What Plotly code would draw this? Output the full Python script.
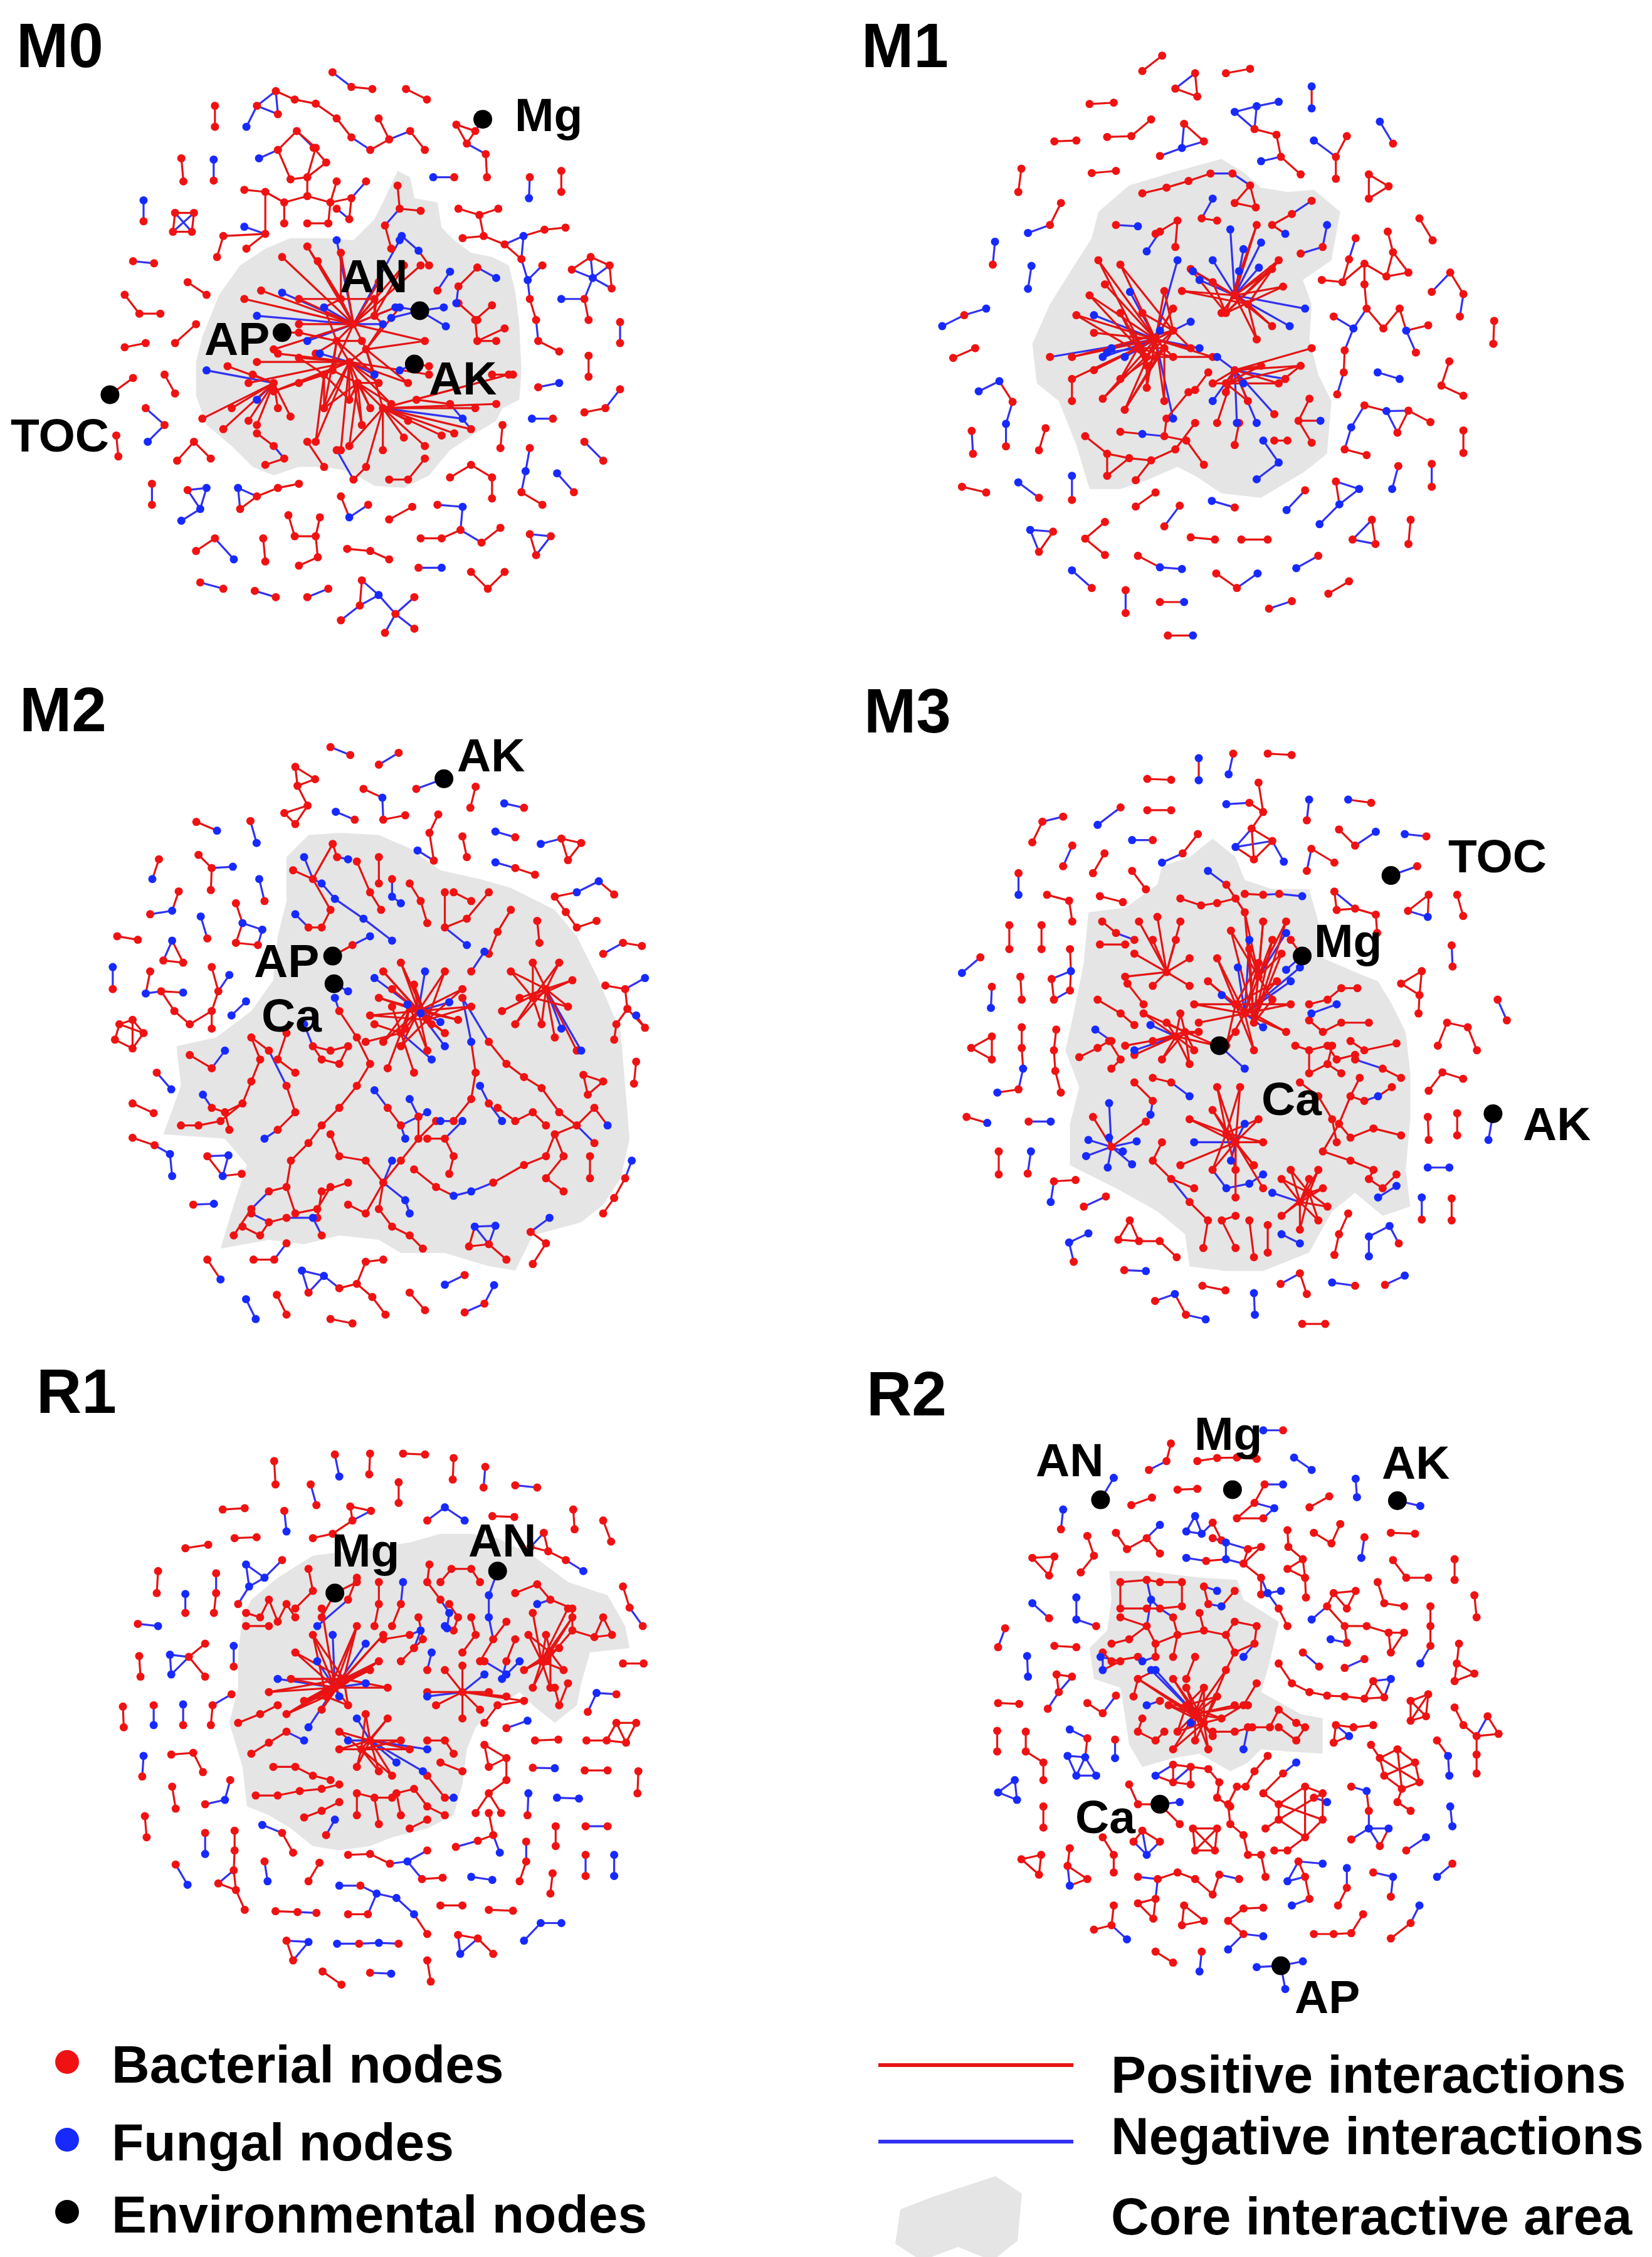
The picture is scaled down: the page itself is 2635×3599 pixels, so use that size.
import re
import plotly.graph_objects as go

W, H = 2635, 3599
ZOOM = 1568  # local units spanned by each panel square

PANEL_NAMES = ["M0", "M1", "M2", "M3", "R1", "R2"]
# crop of each panel in figure pixels: (left, top, size)
PANEL_CROPS = {"M0": (0, 0, 1050), "M1": (1330, 0, 1100), "M2": (0, 1050, 1100),
               "M3": (1420, 1080, 1150), "R1": (0, 2150, 1100), "R2": (1330, 2150, 1100)}
TITLE_POS = {"M0": (16, 64), "M1": (1364, 64), "M2": (21, 1123),
             "M3": (1368, 1125), "R1": (48, 2210), "R2": (1372, 2214)}

# ---------------- network data (node coords in panel units; b = fungal node; '-' positive, '~' negative) --------
M0_PATHS = """
780,160~825,195-875,200
955,200-1005,225
1075,285-1100,330-1120,300-1075,285
1120,300~1138,272
1100,330~1145,355-1148,410
500,240-500,290
575,290b~600,240~645,205~650,260~600,240
645,205-690,225-740,235-790,270-825,315~870,345-915,320~965,300-1000,345
890,270-915,320
420,365-425,420
497,368b~497,418
605,365b~650,345-695,300~735,340-765,375-720,410-680,415-650,345
695,300-740,340-720,410
720,410-720,455-665,470-620,445-570,440
720,455-775,470-825,460~860,420
775,470-790,420
775,470-770,520-720,520
825,460-820,510~790,485
665,470-665,520
620,445-620,545-575,580
570,528b~620,545
620,545-520,550-505,600
330,465b~330,515
405,495~445,540-400,540-405,495-450,495~400,540
450,495-445,540
305,610~355,615
435,660-480,690
285,690-320,735-370,735
455,760-405,805
285,815-335,805
250,928-305,888
380,880-405,925
335,960~380,1000~340,1040b
265,1025-270,1075
410,1085-450,1040-490,1080
350,1140~350,1190
435,1155~480,1150b~465,1200b~435,1155
465,1200b~420,1228b
555,1150b~600,1170-560,1200~555,1150b
600,1170-650,1150-700,1140
455,1300-500,1270~545,1320b
615,1270-620,1325
675,1215-690,1265-740,1265-750,1220
740,1265-745,1315-700,1335
800,1170-820,1220b~865,1190
915,1225-970,1195
815,1295-870,1300-915,1320
1030,1190~1090,1195b~1085,1250-1040,1270-990,1270
1085,1250~1135,1280-1180,1245
985,1340~1040,1340b
1110,1350-1150,1390-1190,1350
1250,1260~1300,1265~1265,1310-1250,1260
465,1375~520,1390
595,1395~645,1410
720,1410~770,1390
850,1370~890,1405b~930,1450~975,1410
850,1370-845,1430~800,1465
930,1450~975,1485
930,1450~905,1495
845,1430~890,1405b
1020,410b~1070,410
1250,410~1248,460b
1325,395-1325,445
1080,485-1130,500-1175,485
1130,500-1140,550-1090,555
1140,550-1190,570~1235,550b-1285,535-1335,530
1190,570-1230,605~1245,655b~1280,620
1235,550b~1230,605
1245,655b~1250,700-1265,750~1270,800-1320,825
1350,630-1395,600-1440,620-1445,675
1350,630~1400,650b~1395,600
1400,650b~1440,620
1400,650b~1445,675
1400,650b~1380,700
1325,700b~1380,700-1390,750
1465,755~1465,805
1390,835-1390,885
1270,910~1320,900b
1465,915~1430,960-1380,970
1255,985b~1305,985
1185,1000-1180,1055
1380,1040~1425,1085
1250,1055~1240,1110b~1230,1160-1280,1190
1315,1115b~1355,1160
1060,1125-1110,1095-1160,1125-1160,1175
935,430-940,485-990,490
940,485~905,525-920,580
945,550b~985,585b-1010,620
1060,635b~1030,680
1125,625-1080,670~1075,710b
1125,625~1170,650b
1160,715-1120,750-1125,800-1170,800
1125,800-1190,770
1125,750-1080,710
1160,880-1210,880
980,940-1060,950~1110,1010
1000,1080-960,1130-915,1130
860,1100-830,1130~790,1060
600,1020-640,1050~665,1080-620,1095
720,1040-760,1100
988,728~940,720b
988,728~1045,720b
988,728~1050,765b
988,728~920,745b
660,780-700,780
975,855~940,870b
975,855-1010,860
"""
M0_STARS = """
830,760>745,610 720,575 660,600 800,590 ~790,560b 890,660 950,620 ~940,560b 990,620 ~760,720b 700,700 ~660,685b 610,680 570,700 ~600,740b 700,760 640,820 ~720,800b 780,870 880,700 ~900,760b ~930,720b 1000,800
820,850>700,840 ~750,830b 650,830 600,850 580,900 640,920 700,900 760,960 820,940 870,960 920,950 850,1000 740,1040 800,1060 890,900 ~880,880b 960,900 1010,880
900,960>950,1030 1000,1050 1040,1025 1070,1020 1120,960 960,990 900,1060 860,1100 820,1050 ~1090,985b 1110,1010 1170,950 1200,880
640,900>590,880 ~600,940b 540,960 580,990 520,1010 470,985 ~480,870b 530,860 600,1000 650,960 680,980
790,800>760,720 830,760 850,800 820,850 780,870 740,830 700,780 760,960 880,880
860,820>830,760 900,760 940,720 1000,800 960,900 900,960 820,850 880,880
840,900>780,870 820,940 870,960 920,950 900,960 850,1000 820,1050 760,960 890,900
760,880>700,840 700,900 780,870 820,940 740,1040 760,960 640,920
880,740>830,760 900,760 930,720 890,660 950,620 880,700
800,700>745,610 800,590 720,575 760,720 830,760 880,700 700,700
"""
M0_CORE = [(935, 395), (965, 410), (975, 460), (1030, 470), (1040, 530), (1070, 560), (1110, 590), (1160, 600),
           (1200, 620), (1215, 680), (1225, 760), (1230, 870), (1225, 940), (1185, 960), (1170, 990), (1120, 1020),
           (1060, 1060), (1010, 1120), (950, 1150), (880, 1145), (820, 1110), (760, 1100), (700, 1100), (640, 1120),
           (590, 1100), (540, 1050), (480, 1000), (455, 930), (455, 850), (470, 790), (510, 690), (560, 620),
           (620, 580), (680, 555), (760, 555), (830, 560), (880, 510), (900, 470)]
M0_ENV = [("Mg", 1138, 272, 1295, 262), ("AN", 988, 728, 878, 645), ("AP", 660, 780, 553, 795),
          ("AK", 975, 855, 1090, 888), ("TOC", 250, 928, 130, 1025)]

M1_PATHS = """
690,150-735,115
765,190~810,155-815,208-765,190
880,155-935,145
1075,185b-1075,235b
570,225-625,222
900,243b~950,230b~1000,220b
950,230b~945,282-995,295-1005,345~960,355b
1005,345-1050,385
900,243b~945,282
1230,265b~1260,315
490,310-540,308
610,300-665,298-710,260
785,270-830,310~780,325b~785,270
780,325b~730,343
1080,308b~1130,345-1155,298
1130,345-1130,395
575,382-630,377
415,372-408,425
1205,385-1250,412-1205,440-1205,385
505,450-480,500~430,518b
355,538b~350,590
438,593b~430,645b
235,730b~285,705~335,690b
260,802-310,780
318,878b~365,855b-395,902~380,952b~380,1003
302,968~305,1020
470,962-455,1012
280,1095-335,1108
408,1085b~455,1120
530,1070b~530,1125
435,1193b~487,1197-455,1243~435,1193b
560,1213-605,1175
560,1213-605,1250
530,1285b~575,1325
680,1252-730,1278b~780,1282b
652,1330~652,1382
730,1357-785,1357b
748,1433-805,1433b
675,1140-720,1108
740,1185~775,1138
848,1127b~900,1142
800,1210-855,1215
915,1215-975,1215
858,1292-905,1325~952,1292b
1018,1148b~1060,1103
1040,1280b~1090,1252
978,1372~1030,1355
1113,1338-1160,1310
1130,1083~1183,1100b~1138,1135b-1130,1083
1138,1135b~1093,1180b
1168,1215~1212,1170-1220,1225~1168,1215
1300,1170-1295,1225
1272,1048~1258,1100b
1348,1043~1348,1095
1420,967-1420,1018
1165,960b~1150,1010-1200,1023
1165,960b~1195,910-1245,923b~1270,972-1295,922-1345,948
1245,923b~1295,922
1225,835b~1275,850b
1388,810-1370,865-1420,888
1490,718-1488,770
1348,652~1390,608-1420,657~1412,708
1098,625-1145,630-1160,578~1175,530
1145,630-1195,588-1245,617-1260,562-1295,608-1245,617
1195,588-1195,635-1200,690~1170,735b
1260,562-1248,515
1200,690-1238,735-1275,690-1290,740b-1340,728
1290,740b~1312,790
1170,735b~1125,708
1170,735b~1150,785-1148,835~1133,885
1320,485-1350,535
690,428-745,415-795,400-845,383~895,383~935,410
935,410-948,460-900,450-935,410
630,500~680,503b
850,440b~825,485-860,490
1075,445~1030,475-985,500-1015,520b
1110,500b~1100,550~1050,565
1000,860-1050,820
1045,945-1095,945b
1070,895-1045,945-1075,995
965,990b~1000,1040b~950,1078b
990,990-1020,990
900,1000-910,950
640,970-690,975b~740,980-790,990-830,1045
560,980-610,1020-660,1030-710,1035-765,1010-810,950
610,1020-610,1070-660,1030
675,1080-710,1035
740,980-745,940-795,880
810,875-840,835
530,850-530,900
720,520-770,490-765,550
700,560b~730,515
"""
M1_STARS = """
720,760>590,580 640,590 605,635 ~662,652b 570,660 540,705 ~580,705b 580,745 ~620,780b 530,800 ~600,800b 580,830 ~480,800 530,850 600,895 650,920 700,870 ~760,940b 740,900 ~650,800b 690,700 740,650 ~770,580b 760,690 ~800,720b 800,780 ~820,780b 850,800
680,780>640,700 700,820 760,800 ~730,740b 640,850 ~610,790b
900,660>~850,580b ~890,510b ~920,555b 950,500 ~960,540b 985,600 ~955,597b 1010,640 ~1060,690b ~1025,730b 985,730 950,760 870,700 ~820,625b 850,630 800,600 780,650 ~805,605b ~910,605b 1000,580
900,830>~860,800b 850,860 880,880 ~850,900b 860,950 ~905,950b 930,900 ~950,950b 1000,860 ~990,930 ~1015,850 1050,820 1075,780 ~920,860b 960,820
760,740>640,590 690,700 740,650 800,780 600,895 650,920 530,800 580,830
700,800>590,580 570,660 540,705 760,690 850,800 700,870 640,700
740,780>680,780 720,760 760,800 700,820 640,850 650,920 740,900
880,700>950,500 985,600 1010,640 870,700 800,600 1000,580 850,630
930,680>850,630 780,650 1000,580 950,760 985,730 900,660
880,860>850,860 880,880 930,900 1000,860 1050,820 960,820 900,830
"""
M1_CORE = [(440, 770), (480, 680), (530, 600), (575, 530), (590, 470), (660, 410), (760, 380), (870, 350),
           (920, 380), (960, 415), (1020, 425), (1080, 420), (1140, 470), (1120, 580), (1055, 625), (1075, 680),
           (1070, 760), (1090, 840), (1120, 900), (1110, 1020), (1060, 1060), (960, 1120), (870, 1110),
           (810, 1070), (770, 1050), (700, 1080), (640, 1100), (570, 1100), (540, 1000), (500, 900), (450, 860)]
M1_ENV = []

M2_PATHS = """
740,190~785,208
850,230~895,203
660,235-705,263-665,278-660,235
665,278-688,323-660,365-635,340-688,323
935,285~998,262
815,285-858,305b~860,355-910,345
1070,280-1058,328
752,337b~795,355
1135,318b~1180,328
435,360-482,380b
558,358~572,408b
985,343-965,385-975,448
938,425b~975,448
1040,393-1050,440
1115,382b~1160,395
1218,410b~1265,398-1310,408-1280,447-1265,398
1115,452b~1160,465-1205,480
350,445-335,490b
440,435-470,465~518,462b
470,465-468,515
578,490b~590,540
395,518-380,562b~330,570
540,590b~585,605b~575,640-525,635-540,590b
525,545-540,590b
445,575b~460,625
255,620-302,628
380,630b~360,675-405,680-380,630b
245,690b~245,740
330,700-320,750b~355,745-405,748b
355,745-385,790-420,820-470,790-485,745-470,690
470,790-470,830
485,745~510,708b
515,800b~548,768b
260,820-290,810-315,840-290,875-250,855-260,820
260,820-315,840
290,810-290,875
345,930~378,968b
290,1000-338,1022
290,1078-340,1095~375,1115b~380,1165b
460,1120~508,1118b~495,1165b-538,1160
460,1120-495,1165b
428,1230~475,1228b
1250,530-1300,520b~1350,495b-1385,525
1250,530-1275,565-1300,600-1345,585
1360,660~1405,635-1448,642
1365,732-1410,740~1455,715b
1410,740-1415,785-1390,820-1385,855
1415,785-1455,828-1435,800b
1435,905-1430,955
1315,935-1360,950-1325,980-1315,935
1425,1130b~1410,1170-1385,1215-1360,1250
1238,1260b~1195,1292-1230,1318-1200,1365
1068,1280b-1055,1325-1100,1320~1068,1280b
1068,1280b~1115,1278b~1100,1320-1140,1355
460,1355-490,1400b
565,1355-612,1355~640,1318
675,1380b~690,1430~725,1392b~675,1380b
725,1392b~760,1420-800,1410-820,1360-860,1355
800,1410-835,1440-865,1480
548,1445b~570,1490b
618,1435-640,1480
740,1490-790,1500
920,1430-955,1470
1000,1412b~1045,1390
1045,1475~1090,1455~1112,1413b
680,440b~700,490-745,410-755,440~780,445b
655,470-700,490~720,500b~750,535b~815,580b~880,630b
700,490-740,560-720,600-690,600~660,570b
800,450-830,520-855,560
850,440-850,500
880,490~880,530b~900,545b
920,500-945,540-960,590
1000,520-1000,600-1050,580-1100,520
1020,520-1060,540
1000,600~1050,640b
1090,655b~1060,700
1150,560-1120,610-1100,660
1210,585-1215,635
1040,760~1060,860b-1070,930-1060,990-1020,1040~990,1040b
1040,760~1100,860-1140,910-1180,940-1220,965-1260,1020-1300,1050
1300,1050-1340,1010-1370,1050b
1300,1050~1340,1090
1300,1050-1250,1070-1230,1120-1180,1140-1110,1180~1060,1200b~1020,1210b-980,1190-930,1150
1250,1070-1270,1120-1230,1170-1270,1200
1330,1120-1330,1170
1120,1010-1160,1040-1200,1020-1230,1050
1080,960b~1100,1000~1130,1040b
750,760b~760,790-800,850-830,910-800,960-760,1010-720,1050
720,1050-690,1090-650,1130-640,1190-600,1200~560,1240-520,1300
640,1190-660,1250-710,1240-740,1190
700,870-740,880-780,870-760,910-720,900-700,870
680,820b~700,870
640,840-620,900-660,930
560,850-600,880~640,960-660,1020-620,1060~590,1080b
560,850-580,900-560,950-540,1000-500,1020-470,1010~450,980b
540,1000-490,1040-440,1050-400,1050
500,1020-510,1060
420,890-470,920~500,880b
760,1120-820,1130-860,1180-820,1250-780,1230
860,1180~910,1220b~920,1250b
860,1180-850,1240-880,1280-920,1300-950,1330
780,1180-720,1200-710,1260
860,1180~880,1130b
760,1120-740,1070
860,1180-900,1130-940,1080-980,1040
940,1080-940,1030~920,990b
840,970b~870,1010-900,1050~910,1080b
900,1050~960,1020b
960,1080-1000,1080-1020,1120-1010,1160
1000,1080~1040,1040b
560,1250~600,1270-640,1260~700,1260b~720,1300
540,1280-580,1300-600,1270
745,665-790,640~830,620b
748,728~780,745b
"""
M2_STARS = """
940,790>860,700 900,680 ~955,700b 1000,700 1040,740 ~1010,770b 1060,780 1000,840 ~1000,870b 960,880 900,870 860,860 830,800 850,760 ~840,715b 880,740 ~915,775b 970,820 ~990,815b 910,830 ~945,795b 930,730 1030,810
900,840>820,860 870,920 930,930 ~970,900b 880,780 840,820
1230,740>1150,700 1170,760 1200,680 1260,680 1290,720 1280,780 1220,820 1160,820 1130,790 1250,850 1300,880 ~1265,830b ~1310,880b
960,810>860,700 900,680 1000,700 1040,740 1060,780 1000,840 900,870 830,800 880,740 930,730
920,780>850,760 970,820 910,830 1030,810 960,880 860,860 900,840
1200,760>1150,700 1200,680 1260,680 1290,720 1280,780 1220,820 1160,820
"""
M2_CORE = [(640, 440), (690, 390), (760, 385), (850, 390), (920, 420), (990, 470), (1080, 490), (1150, 510),
           (1250, 560), (1300, 620), (1350, 720), (1400, 840), (1410, 960), (1420, 1080), (1400, 1170),
           (1360, 1230), (1310, 1270), (1200, 1300), (1160, 1380), (1100, 1370), (1000, 1340), (900, 1340),
           (850, 1310), (760, 1300), (680, 1320), (600, 1310), (490, 1330), (520, 1230), (550, 1140), (500, 1080),
           (360, 1070), (400, 960), (390, 870), (480, 850), (560, 790), (610, 720), (620, 620), (640, 540)]
M2_ENV = [("AK", 998, 262, 1105, 208), ("AP", 745, 665, 640, 675), ("Ca", 748, 728, 652, 800)]

M3_PATHS = """
735,155~725,200b
660,165b-660,213b
810,155-862,158
548,210-600,212
548,278-600,278
720,265b~770,262-800,282-790,218
740,358b~775,318-820,345-780,385-740,358b
775,318-780,385
740,358b~820,345
820,345~845,390b
775,318-800,282
900,255b~895,300
985,255b-1035,262
440,310b~490,272
298,348-320,303~365,292
515,343b~560,343
385,355~365,400
455,372-430,415
580,392b~625,372-658,330
965,320-1000,355~1045,325b
1108,330b~1155,335
895,410~905,362-955,392
1078,420~1135,400
515,410-545,450
268,415~268,462b
330,462-378,475-385,520
445,465-495,478
1115,497-1160,462-1158,510b~1115,497
1222,462-1235,508
955,455~1000,492-960,495-955,455
1000,492-1045,505-1048,545
248,528-248,580
318,528-318,580
380,580-382,628b~340,645-345,690~380,670-382,628b
185,598~145,632b
1210,572~1212,618
210,662~208,708b
272,640-275,690
1145,628-1100,655-1140,680-1145,628
1140,680-1138,720
1310,690~1330,735
275,750-275,795-278,840b~268,885-222,892b
350,755-345,800-348,845-360,892
210,770-165,795-210,820-210,770
1200,740-1180,790
1200,740-1245,750-1265,800
155,945-200,958b
290,955~338,955b
1160,888-1190,848-1235,862
1158,945-1160,995
1222,937-1222,985
1300,938~1290,995b
225,1020-225,1070
295,1020b~288,1068
345,1085-392,1082
345,1085~338,1130b
410,1140~458,1118
1158,1055b~1205,1055b
1145,1120b~1145,1168
1210,1122-1210,1170
985,1155-965,1200-955,1245
378,1218b~420,1198b
378,1218b~388,1260
485,1212-510,1170-530,1215-485,1212
530,1215-575,1215-612,1250
1030,1205b~1030,1248b
1030,1205b~1075,1182b~1095,1220
498,1278~545,1280b
565,1345~608,1330b-632,1375~675,1385b
668,1312-718,1322
780,1328b~782,1375b
838,1308~880,1285-895,1330
950,1305b~1000,1312
1065,1310~1108,1290b
885,1395-935,1395
620,470-665,485-700,480-740,470-760,500
680,410b~720,440-760,500
760,460-800,462~835,460~885,465b
450,520-480,545~520,560
445,570-500,570
505,655-540,700
440,690-490,720-520,745
400,815-440,795-465,780-490,820-470,840
435,755b~470,780
900,700-940,690-970,665-1005,665
905,720b~960,700b
900,735-930,760-970,740-1030,740
870,790-900,800-940,790-960,820-1000,810
900,800-900,850-940,830-970,850
940,830-950,790
990,780-1020,800-1090,785
1000,820~1060,840-1100,860
1010,860-990,900-1020,910~1050,900b-1080,880
990,900-965,960-990,990-1040,970-1100,985
965,960-930,1020-990,1040-1040,1060-1030,1080-1060,1100-1090,1070
1050,1120b~1090,1095b
880,870-920,900-950,950-960,1000
560,860-600,870~640,900b
520,870-560,910~555,940b
580,1000-560,1040-600,1080-650,1100
600,1080~640,1130-680,1170-670,1230
710,1170-740,1230
770,1170-780,1250
810,1180-810,1240
740,1160-710,1170
840,1200b~880,1220b
690,1060~720,1100b~770,1090b~800,1070b
885,595~850,625b
885,595-860,560
705,790-740,760
705,790~760,840b
"""
M3_STARS = """
760,720>680,650 700,600 ~745,620b 790,610 830,650 ~860,650b 860,700 850,760 ~800,750b 780,800 720,790 ~710,680b 650,700 ~770,560b 820,560 660,740 ~880,620b
790,640>730,540 760,500 800,520 850,520 840,590 770,580 ~850,545b 820,690
610,770>540,720 560,780 580,820 640,830 660,760 620,720 ~555,745b 500,790 520,810 ~520,800b 590,740 650,800 700,790
590,630>520,590 560,560 610,560 640,600 640,660 560,660 500,640 530,520 570,510 620,520
740,1000>690,930 700,880 750,880 790,950 800,1000 ~760,960b 690,1060 740,1060 780,1050 ~650,1000b 640,950 620,1050 ~730,1040b 800,1100 740,1120
880,1130>840,1080 860,1060 920,1060 930,1100 920,1170 880,1190 840,1160 ~820,1110b 940,1140 900,1080
470,1010>~420,995b ~465,990b ~495,1020b ~525,998b ~462,1055b ~515,1048b ~415,1030b 545,955 ~465,915b 430,945
740,700>680,650 700,600 790,610 830,650 860,700 850,760 780,800 720,790 650,700
780,740>820,560 730,540 760,500 800,520 850,520 840,590 770,580 820,690
630,760>540,720 560,780 580,820 640,830 660,760 620,720 590,740 650,800 700,790
720,980>690,930 700,880 750,880 790,950 800,1000 690,1060 740,1060 780,1050 640,950
900,1110>840,1080 860,1060 920,1060 930,1100 920,1170 880,1190 840,1160 940,1140
"""
M3_CORE = [(420, 500), (500, 490), (570, 440), (580, 400), (640, 380), (690, 340), (740, 380), (760, 430),
           (820, 450), (900, 450), (920, 520), (930, 600), (1000, 630), (1050, 650), (1080, 700), (1110, 760),
           (1120, 850), (1120, 950), (1110, 1060), (1120, 1140), (1060, 1160), (1000, 1110), (950, 1150),
           (900, 1240), (800, 1280), (720, 1280), (640, 1270), (630, 1200), (570, 1150), (480, 1100), (380, 1050),
           (380, 960), (400, 880), (370, 800), (390, 710), (410, 610)]
M3_ENV = [("Mg", 885, 595, 985, 562), ("Ca", 705, 790, 862, 905), ("TOC", 1078, 420, 1310, 378),
          ("AK", 1300, 938, 1438, 960)]

R1_PATHS = """
612,245-615,298
750,230~760,280b
830,228-828,275
905,228-955,230
1020,238-1018,287
1092,258~1088,305
1160,300~1210,305
695,298~708,345
895,293-895,340
495,355-545,352
635,358~640,405b
785,348-832,358~790,380-785,348
790,380-745,410-700,420
960,380~1000,350b~1045,380b
1108,370-1158,372
1292,355-1295,400
1360,380-1378,428
410,443-462,435
522,420-572,418
1225,408-1235,450-1195,440~1225,408
1235,450-1275,470~1315,495b
548,480b~590,510b~630,470
548,480b~555,530b~590,510b
555,530b~530,570
348,495-345,545
480,500~480,545-475,590
410,547b~410,590
302,615~348,620b
1405,530-1420,578~1450,620
305,688-308,735
375,685b~418,690-455,660
418,690~378,730b
418,690-455,735
375,685b~378,730b
520,665b~520,712
1405,705-1452,705
268,803-270,850
338,800~338,845b
405,798b~405,845
472,800-468,845
472,800~515,775
1345,772b~1390,775
1345,772b~1325,815
1140,852~1188,835b
1322,880-1368,880-1412,885-1435,840-1390,840-1368,880
1390,840-1412,885
1205,880-1258,878
315,915b~312,962
378,912-428,908-450,952
1200,942~1250,943b
1318,948-1370,948
1440,950-1438,1000
1090,890-1140,920-1100,940-1090,890
1140,920-1140,970-1100,1000-1070,1045
1100,1000-1128,1045
380,985-388,1035
455,1025~500,1015b~512,970
1190,1000b~1188,1050
1255,1010b~1305,1012b
318,1052-322,1100
1252,1075-1252,1120
1320,1075~1370,1075
585,1072b~630,1090-655,1135
455,1090~455,1138b
522,1085-522,1130-520,1175-525,1220-545,1265
485,1205~520,1175
485,1205-525,1220
1185,1110~1185,1155-1170,1200
1320,1140~1320,1188
1385,1140b~1385,1188b
1025,1122~1075,1108-1110,1095~1125,1135b
1110,1095-1100,1045
780,1140-830,1138-875,1160~915,1155b~960,1130
915,1155b~948,1195-995,1192
388,1162~415,1208b
590,1155~597,1200b
690,1200-715,1158
1060,1190b~1108,1197b
1245,1182-1240,1228
760,1210b~808,1210~845,1228b~890,1238b~930,1275b-960,1320
845,1228b~825,1275-780,1275
615,1268-665,1270~708,1272
990,1255-1040,1255
1100,1265-1155,1267
1180,1335b~1218,1295b~1265,1295b
640,1335~690,1338b~655,1380-640,1335
755,1342b~805,1342~850,1340b~895,1342
1030,1322~1035,1365b
1030,1322-1075,1330-1110,1365
1075,1330~1035,1365b
722,1405-765,1435
830,1408~878,1410b
960,1380-968,1428
548,590-580,600-600,560-620,610-640,570-660,600
548,620-600,620
690,490-700,540-660,580
800,510-780,560~710,620b
850,520-850,570-840,620
905,520b~900,570-880,620
940,600-950,650-900,700
860,650-920,640~945,630b~930,670
970,680b~960,720
965,480-960,520-990,560~1010,590b~1005,625b
990,520-1015,490-1060,490-1080,520
1010,570-1030,600-1020,630~1000,620b
1060,600-1070,640-1040,680
1100,550b~1100,600b~1110,650-1080,700
1140,610-1110,650
1160,650-1140,700~1130,740b~1170,700b
1160,545-1210,525-1240,560~1210,570b
1240,560-1290,580-1290,630-1340,645-1360,600-1380,640-1340,645
1290,630-1230,700
1250,760-1260,800-1280,750
1180,790-1120,800-1090,840
1090,700~1140,730b
560,910-600,885-640,860~680,880b
610,940-660,940-700,960-740,970
570,1005-620,1005-670,995-720,990-760,980
680,1055-720,1040-760,1020
730,1095~750,1060b
800,1050-800,1000-840,1010-850,1070
900,1050-890,1000-930,990-960,1030-1000,1050
920,1080-960,1060
960,960-1000,1010~1020,1010b
990,930-1040,950
960,880-1000,880-1020,910
840,1010-880,1010
530,840-580,820-620,800
750,545-720,600
750,545-800,520
1120,495~1100,550b
"""
R1_STARS = """
750,760>660,680 700,640 ~745,640b 800,620 860,640 ~820,660b 850,700 870,760 ~820,750b 780,800 ~760,780b 720,810 680,790 650,740 ~620,740b 600,770 ~710,700b 640,820 ~690,850b 830,720 720,580
830,880>760,860 ~780,880b 800,940 850,950 ~890,930b 900,880 870,830 ~800,830b 760,900 880,960 920,900 ~960,900b 820,820 ~950,950b
1040,770>1000,720 1040,710 ~1090,730b 1100,770 1080,810 1040,830 980,800 960,770 ~960,780b 1140,780 1180,790
1220,700>1190,640 1230,640 1260,670 1270,720 1240,760 1200,760 1180,720 1290,600 1200,590 1280,580
770,740>660,680 700,640 800,620 860,640 850,700 870,760 780,800 720,810 680,790 650,740 600,770 640,820 830,720
730,780>700,640 750,760 800,620 850,700 780,800 680,790 640,820
810,900>760,860 800,940 850,950 900,880 870,830 760,900 880,960 920,900 820,820
1240,680>1190,640 1230,640 1260,670 1270,720 1240,760 1200,760 1180,720 1290,600
"""
R1_CORE = [(540, 600), (560, 560), (620, 510), (700, 460), (780, 450), (850, 440), (920, 430), (990, 410),
           (1060, 410), (1120, 420), (1200, 460), (1280, 520), (1370, 550), (1410, 620), (1420, 670), (1330, 680),
           (1310, 750), (1300, 800), (1250, 840), (1200, 800), (1170, 770), (1110, 810), (1070, 850), (1050, 900),
           (1040, 980), (1020, 1050), (960, 1080), (880, 1100), (830, 1120), (760, 1130), (700, 1120), (650, 1080),
           (600, 1050), (550, 1030), (540, 940), (510, 840), (530, 760), (530, 680)]
R1_ENV = [("Mg", 750, 545, 820, 448), ("AN", 1120, 495, 1130, 425)]

R2_PATHS = """
965,175b~1010,175
815,245-860,238-905,237-950,240
755,205-745,245~705,265
1035,237b~1075,265b
595,333~625,283b
665,345-712,328
770,310-815,308
968,298~1010,298b
968,298-945,340
905,375-945,340~990,352b~965,375-905,375
1175,285b~1178,327b
1270,335~1322,347b
1070,350-1115,325
510,355b~505,400
565,415-580,460-550,498
630,408-655,445-700,420~730,390b
700,420-730,455
810,370b~790,405b~825,410b~810,370b
825,410b~850,385-870,425
790,465b~835,472-880,468b~920,478-930,445-960,440-920,478
880,430b~930,445
850,420~880,430b~880,468b
1020,402-1022,440-1055,468
1055,468-1020,490-1060,510-1055,468
1060,510-1062,555
1080,408-1120,432-1140,388
1195,418~1188,465b
1255,408-1310,410
440,465-490,462-478,505-440,465
1260,470-1290,510-1340,510
1400,468-1400,515
920,478-960,510~975,545b~1005,540b
960,510-960,548~975,545b
975,545b~1000,580-1020,620
440,568b~478,602
540,555b~540,605b~585,620
1445,550-1450,600
1225,520-1240,568-1285,575
1345,575-1345,620-1345,665~1322,705b
1075,605b~1110,575-1125,545-1175,540-1155,580-1125,545
1110,575-1150,620-1200,620-1250,635-1285,635-1255,680-1250,635
1150,620-1155,658~1118,650b
378,625~362,668
490,665-540,668
428,688b~430,735b
1410,660-1405,705-1445,728-1400,745-1405,705
1055,680~1092,712
1150,715~1195,695
495,730-530,735~500,770-495,730
500,770~475,808
1000,705-1030,750-1070,770-1110,778-1150,780-1195,785-1240,782~1255,740b
1195,785-1215,745-1240,782
1215,745~1255,740b
362,795-410,797
565,795-600,818~630,778
1300,790-1340,775-1335,825-1300,835-1300,790
1300,790-1335,825
1340,775-1300,835
1400,805-1420,845-1450,870~1475,825-1500,865-1450,870
1450,870-1450,912-1450,955
360,858-360,905
425,860-425,905-465,930-465,970
525,855b~565,875-560,918b
520,915b~560,918b~585,960b~540,960b~520,915b
540,960b~560,918b
628,878~628,920b
1130,845-1170,850-1215,845
1130,845~1160,870b-1125,885-1130,845
1360,880-1385,915b~1388,960b
362,998b~400,970b~405,1015b~362,998b
465,1030-465,1078
720,960b~760,935-800,940~760,975-720,960b
760,935-760,975
800,940-800,980-760,975
800,940-840,945-865,975-860,1010-890,1030
975,915-945,950-925,985-905,985-885,1025-890,1070-920,1095-930,1140-960,1140-970,1190
1040,930b~1010,955-965,1000
660,980-680,1025-730,1025
730,1025~775,1020b
730,1025-775,1070
690,1085-730,1110~700,1140b~670,1110-690,1085
690,1085~700,1140b
600,1100-625,1140-625,1180
415,1150-460,1140-455,1185-415,1150
525,1125-520,1165~525,1210b-565,1195-520,1165
805,1080-860,1080-855,1130-810,1130-805,1080
805,1080-855,1130
860,1080-810,1130
1000,1025-1060,985-1100,1000-1100,1060-1060,1100-1000,1060-1000,1025
1000,1025-1100,1060
1060,985-1060,1100
1100,1000-1000,1060
1080,1010~1110,1020b
970,1080-1000,1060
1060,1100-1020,1130-990,1130
965,1000-1000,1025
1165,985~1200,995b-1205,1040~1205,1080b~1230,1120-1250,1080b~1205,1080b
1165,1105~1205,1080b
1230,920-1270,900-1310,930-1320,975-1280,990-1240,960-1230,920
1230,920-1320,975
1270,900-1280,990
1310,930-1240,960
1210,890-1230,920
1280,990-1270,1020-1300,1040
1390,1030b~1395,1075b
1290,1130~1335,1100b
1360,1190b~1395,1160
1020,1200b~1045,1155-1060,1190~1020,1200b
1045,1155~1100,1160b
1060,1190-1070,1240~1030,1255b
1155,1170b~1155,1215-1135,1255
1215,1180~1260,1190b~1255,1235
1320,1255b~1300,1295-1255,1330
1080,1320-1125,1320-1165,1318-1192,1275
680,1190~725,1195~720,1240
725,1195-770,1180-810,1195-850,1230-865,1185~910,1195
680,1250-720,1240-715,1285-680,1250
785,1255-830,1290-780,1300-785,1255
885,1290-920,1262-965,1260
885,1290-920,1320~965,1325b
920,1320~885,1355b
580,1310-620,1300-625,1255
620,1300~655,1332b
720,1360-760,1385
825,1360~820,1405b
1005,1392~950,1395b
1005,1392~1055,1382b
1005,1392~1015,1445b
640,520-700,515-730,520-780,520-780,575-730,580-700,580-640,580-640,520
700,515~710,560b~730,580
710,560b~700,620-640,600
700,620-660,650-620,660
700,620-720,660-770,640-760,600~730,580
720,660-720,690~690,700b
600,680~600,720b
680,690-620,700-600,680
760,690-770,640-830,630-880,640-900,680-880,720
830,630-820,590
860,540b~830,530-840,570~870,575b-900,540
880,640-900,610-950,620-945,660-900,680
945,660~920,690b
810,690-790,740
720,720-680,740-670,780
700,800b~730,790
690,830-680,860-720,880-740,860
850,860-900,860-940,850-980,850-1000,810-1040,840-1060,850-1040,880-1000,850
930,850~920,900b
870,830-920,800-950,750
595,690b~640,700
600,720-640,700
"""
R2_STARS = """
810,820>760,740 790,760 830,760 860,780 870,830 850,870 810,880 770,860 750,800 ~720,720b 680,740 880,720 760,900 840,900 ~800,840b 900,800 930,800 ~710,720b
830,840>760,740 790,760 830,760 860,780 870,830 850,870 810,880 770,860 750,800 680,740 880,720 760,900 840,900
790,800>830,760 860,780 870,830 850,870 770,860 750,800
"""
R2_CORE = [(615, 495), (700, 495), (820, 510), (905, 515), (920, 560), (1000, 610), (980, 700), (960, 770),
           (1050, 820), (1100, 830), (1100, 910), (1020, 905), (960, 900), (930, 930), (890, 950), (820, 910),
           (760, 920), (690, 940), (660, 890), (650, 820), (640, 760), (580, 740), (570, 670), (610, 630), (620, 560)]
R2_ENV = [("AN", 595, 333, 525, 243), ("Mg", 895, 310, 885, 183), ("AK", 1270, 335, 1312, 248),
          ("Ca", 730, 1025, 607, 1053), ("AP", 1005, 1392, 1110, 1463)]

PANELS = {"M0": (M0_PATHS, M0_STARS, M0_CORE, M0_ENV), "M1": (M1_PATHS, M1_STARS, M1_CORE, M1_ENV),
          "M2": (M2_PATHS, M2_STARS, M2_CORE, M2_ENV), "M3": (M3_PATHS, M3_STARS, M3_CORE, M3_ENV),
          "R1": (R1_PATHS, R1_STARS, R1_CORE, R1_ENV), "R2": (R2_PATHS, R2_STARS, R2_CORE, R2_ENV)}

LEGEND_NODES = [("Bacterial nodes", "bact"), ("Fungal nodes", "fung"), ("Environmental nodes", "env")]
LEGEND_LINES = [("Positive interactions", "pos"), ("Negative interactions", "neg"), ("Core interactive area", "core")]
LEGEND_CORE_SHAPE = [(1580, 3462), (1622, 3490), (1615, 3565), (1575, 3597), (1520, 3575), (1462, 3597),
                     (1420, 3570), (1428, 3515), (1480, 3495)]

# ---------------- styles ----------------
RED_NODE, BLUE_NODE = "rgb(240,18,18)", "rgb(22,42,255)"
RED_EDGE, BLUE_EDGE = "rgb(228,20,20)", "rgb(50,50,240)"
CORE_FILL = "rgb(229,229,229)"
FONT = "Liberation Sans, Arial, sans-serif"
NODE_SIZE, EDGE_W, ENV_SIZE = 13, 3.2, 30


def parse(paths, stars):
    nodes, red, blue = {}, [], []

    def node(tok):
        tok = tok.strip()
        col = "b" if tok.endswith("b") else "r"
        x, y = tok.rstrip("b").split(",")
        p = (float(x), float(y))
        if col == "b":
            nodes[p] = "b"
        else:
            nodes.setdefault(p, "r")
        return p

    for line in paths.strip().splitlines():
        line = line.strip()
        if not line or line.startswith("#"):
            continue
        parts = re.split(r"([-~])", line)
        prev = node(parts[0])
        for i in range(1, len(parts), 2):
            cur = node(parts[i + 1])
            (red if parts[i] == "-" else blue).append((prev, cur))
            prev = cur
    for line in stars.strip().splitlines():
        line = line.strip()
        if not line:
            continue
        hub, rest = line.split(">")
        h = node(hub)
        for tok in rest.split():
            q = node(tok.lstrip("~"))
            (blue if tok.startswith("~") else red).append((h, q))
    return nodes, red, blue


def seg_xy(edges):
    xs, ys = [], []
    for a, b in edges:
        xs += [a[0], b[0], None]
        ys += [a[1], b[1], None]
    return xs, ys


fig = go.Figure()
annotations = []
layout_axes = {}

for k, name in enumerate(PANEL_NAMES, start=1):
    paths, stars, core, env = PANELS[name]
    x0, y0, s = PANEL_CROPS[name]
    xa = "x" if k == 1 else f"x{k}"
    ya = "y" if k == 1 else f"y{k}"
    layout_axes["xaxis" if k == 1 else f"xaxis{k}"] = dict(
        domain=[x0 / W, (x0 + s) / W], range=[0, ZOOM], visible=False, fixedrange=True, anchor=ya)
    layout_axes["yaxis" if k == 1 else f"yaxis{k}"] = dict(
        domain=[1 - (y0 + s) / H, 1 - y0 / H], range=[ZOOM, 0], visible=False, fixedrange=True, anchor=xa)

    cx = [p[0] for p in core] + [core[0][0]]
    cy = [p[1] for p in core] + [core[0][1]]
    fig.add_trace(go.Scatter(x=cx, y=cy, mode="lines", fill="toself", fillcolor=CORE_FILL,
                             line=dict(width=0, color=CORE_FILL), hoverinfo="skip", xaxis=xa, yaxis=ya))
    nodes, red, blue = parse(paths, stars)
    bx, by = seg_xy(blue)
    rx, ry = seg_xy(red)
    fig.add_trace(go.Scatter(x=bx, y=by, mode="lines", line=dict(color=BLUE_EDGE, width=EDGE_W),
                             hoverinfo="skip", xaxis=xa, yaxis=ya))
    fig.add_trace(go.Scatter(x=rx, y=ry, mode="lines", line=dict(color=RED_EDGE, width=EDGE_W),
                             hoverinfo="skip", xaxis=xa, yaxis=ya))
    for col, c in (("r", RED_NODE), ("b", BLUE_NODE)):
        pts = [p for p, v in nodes.items() if v == col]
        fig.add_trace(go.Scatter(x=[p[0] for p in pts], y=[p[1] for p in pts], mode="markers",
                                 marker=dict(color=c, size=NODE_SIZE, line=dict(width=0)),
                                 hoverinfo="skip", xaxis=xa, yaxis=ya))
    if env:
        fig.add_trace(go.Scatter(x=[e[1] for e in env], y=[e[2] for e in env], mode="markers",
                                 marker=dict(color="black", size=ENV_SIZE), hoverinfo="skip", xaxis=xa, yaxis=ya))
        for lab, _, _, lx, ly in env:
            annotations.append(dict(x=lx, y=ly, xref=xa, yref=ya, text=f"<b>{lab}</b>", showarrow=False,
                                    xanchor="center", yanchor="middle",
                                    font=dict(family=FONT, size=75, color="black")))
    tx, ty = TITLE_POS[name]
    annotations.append(dict(x=tx / W, y=1 - ty / H, xref="paper", yref="paper", text=f"<b>{name}</b>",
                            showarrow=False, xanchor="left", yanchor="middle",
                            font=dict(family=FONT, size=100, color="black")))

# ---------------- legend (figure pixel axes) ----------------
LA = 7
layout_axes[f"xaxis{LA}"] = dict(domain=[0, 1], range=[0, W], visible=False, fixedrange=True, anchor=f"y{LA}")
layout_axes[f"yaxis{LA}"] = dict(domain=[0, 1], range=[H, 0], visible=False, fixedrange=True, anchor=f"x{LA}")
lx, ly = f"x{LA}", f"y{LA}"
node_rows = [3280, 3404, 3519]
node_cols = {"bact": RED_NODE, "fung": BLUE_NODE, "env": "black"}
for (lab, key), yy in zip(LEGEND_NODES, node_rows):
    fig.add_trace(go.Scatter(x=[99], y=[yy], mode="markers", marker=dict(color=node_cols[key], size=38),
                             hoverinfo="skip", xaxis=lx, yaxis=ly))
    annotations.append(dict(x=168, y=yy + 4, xref=lx, yref=ly, text=f"<b>{lab}</b>", showarrow=False,
                            xanchor="left", yanchor="middle", font=dict(family=FONT, size=84, color="black")))
line_rows = {"pos": (3285, 3300), "neg": (3407, 3398), "core": (None, 3526)}
for lab, key in LEGEND_LINES:
    yl, yt = line_rows[key]
    if key == "core":
        fig.add_trace(go.Scatter(x=[p[0] for p in LEGEND_CORE_SHAPE] + [LEGEND_CORE_SHAPE[0][0]],
                                 y=[p[1] for p in LEGEND_CORE_SHAPE] + [LEGEND_CORE_SHAPE[0][1]],
                                 mode="lines", fill="toself", fillcolor=CORE_FILL,
                                 line=dict(width=0, color=CORE_FILL), hoverinfo="skip", xaxis=lx, yaxis=ly))
    else:
        fig.add_trace(go.Scatter(x=[1393, 1704], y=[yl, yl], mode="lines",
                                 line=dict(color=RED_EDGE if key == "pos" else BLUE_EDGE, width=6),
                                 hoverinfo="skip", xaxis=lx, yaxis=ly))
    annotations.append(dict(x=1762, y=yt, xref=lx, yref=ly, text=f"<b>{lab}</b>", showarrow=False,
                            xanchor="left", yanchor="middle", font=dict(family=FONT, size=84, color="black")))

fig.update_layout(width=W, height=H, margin=dict(l=0, r=0, t=0, b=0), paper_bgcolor="white",
                  plot_bgcolor="rgba(0,0,0,0)", showlegend=False, annotations=annotations, **layout_axes)
fig.write_html("out.html")
